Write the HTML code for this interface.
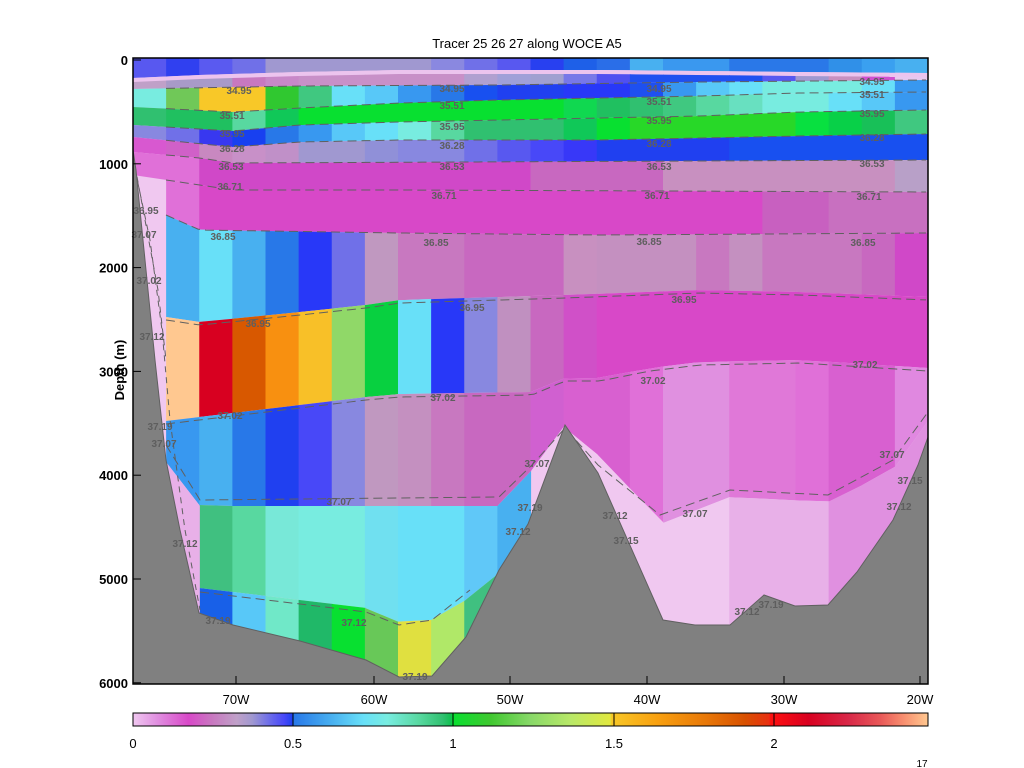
<!DOCTYPE html>
<html><head><meta charset="utf-8"><style>
html,body{margin:0;padding:0;background:#fff;width:1024px;height:768px;overflow:hidden}
svg{display:block}
text{font-family:"Liberation Sans",sans-serif}
</style></head><body>
<svg id="s" width="1024" height="768" xmlns="http://www.w3.org/2000/svg">
<defs>
<clipPath id="pc"><rect x="133" y="58" width="795" height="626"/></clipPath>
<linearGradient id="cb" x1="0" x2="1" y1="0" y2="0">
<stop offset="0" stop-color="#f0c8f0"/><stop offset="0.03" stop-color="#e090e0"/><stop offset="0.07" stop-color="#d848c8"/><stop offset="0.1" stop-color="#c878c0"/><stop offset="0.13" stop-color="#c0a0c8"/><stop offset="0.15" stop-color="#a098d0"/><stop offset="0.17" stop-color="#7070e8"/><stop offset="0.19" stop-color="#4848f8"/><stop offset="0.2" stop-color="#2040f0"/>
<stop offset="0.202" stop-color="#2878e8"/><stop offset="0.25" stop-color="#48b0f0"/><stop offset="0.29" stop-color="#68e0f8"/><stop offset="0.32" stop-color="#78ece0"/><stop offset="0.36" stop-color="#58d8a0"/><stop offset="0.39" stop-color="#30c070"/><stop offset="0.4" stop-color="#10c050"/>
<stop offset="0.402" stop-color="#08e030"/><stop offset="0.45" stop-color="#40c830"/><stop offset="0.5" stop-color="#88d868"/><stop offset="0.55" stop-color="#b8e868"/><stop offset="0.6" stop-color="#e0e840"/>
<stop offset="0.602" stop-color="#f8c828"/><stop offset="0.66" stop-color="#f8a010"/><stop offset="0.72" stop-color="#e87808"/><stop offset="0.77" stop-color="#d85000"/><stop offset="0.8" stop-color="#e83010"/>
<stop offset="0.802" stop-color="#ff1010"/><stop offset="0.85" stop-color="#d80020"/><stop offset="0.9" stop-color="#d82848"/><stop offset="0.94" stop-color="#e85858"/><stop offset="0.97" stop-color="#f89070"/><stop offset="1" stop-color="#ffc890"/>
</linearGradient>
</defs>
<g id="plot" clip-path="url(#pc)"><rect x="133" y="58" width="795" height="626" fill="#f0c8f0"/></g>
<g id="over"></g>
</svg>
<script>
var NS="http://www.w3.org/2000/svg";
var plot=document.getElementById('plot'),over=document.getElementById('over');
function el(p,t,a,txt){var e=document.createElementNS(NS,t);for(var k in a)e.setAttribute(k,a[k]);if(txt!=null)e.textContent=txt;p.appendChild(e);return e;}
function f(pts){return function(x){if(x<=pts[0][0])return pts[0][1];for(var i=1;i<pts.length;i++){if(x<=pts[i][0]){var a=pts[i-1],b=pts[i];return a[1]+(b[1]-a[1])*(x-a[0])/(b[0]-a[0]);}}return pts[pts.length-1][1];};}
function cst(v){return function(){return v;};}
var W=33.125,X0=133;
function layer(top,bot,cols){for(var i=0;i<24;i++){var c=cols[i];if(!c)continue;var x0=X0+i*W,x1=x0+W+0.6;
el(plot,'polygon',{points:x0+','+top(x0)+' '+x1+','+top(x1)+' '+x1+','+bot(x1)+' '+x0+','+bot(x0),fill:c});}}
function rep(c,n){var a=[];for(var i=0;i<n;i++)a.push(c);return a;}
var Bs=f([[133,78],[200,75],[300,72],[400,70],[600,70],[800,72],[928,73]]);
var Bs4=function(x){return Bs(x)+4;};
var B3=f([[133,89],[300,86],[500,85],[700,82],[928,80]]);
var B4=f([[133,107],[233,112],[300,108],[400,103],[500,100],[600,98],[700,96],[800,93],[928,92]]);
var B5=f([[133,125],[233,131],[300,125],[400,122],[500,120],[600,118],[700,116],[800,112],[928,110]]);
var B6=f([[133,137],[233,147],[300,142],[400,140],[600,140],[700,138],[800,136],[928,134]]);
var B7=f([[133,152],[200,158],[233,163],[928,160]]);
var B8=f([[133,175],[233,190],[400,190],[928,192]]);
var B9=f([[133,205],[166,215],[200,230],[400,233],[600,235],[928,233]]);
var B10=f([[166,317],[200,322],[300,312],[366,305],[400,300],[500,297],[565,295],[700,290],[800,292],[928,297]]);
var B11=f([[166,421],[233,413],[300,405],[366,397],[400,394],[532,392],[565,378],[600,378],[650,368],[700,362],[800,360],[928,368]]);
var B12=f([[166,462],[200,506],[499,506],[532,470],[565,425],[598,455],[663,523],[730,497],[828,502],[893,470],[928,420]]);
var B13=f([[200,588],[233,592],[300,600],[366,608],[399,622],[432,620],[466,600],[499,573],[532,545]]);
var B99=cst(700);
layer(cst(58),Bs,["#5858f0","#3040f0","#5a5af0","#7070e8","#a098d0","#a098d0","#a098d0","#a098d0","#a098d0","#8a88e0","#7070e8","#5858f0","#2840f0","#1e60e8","#2a6ee8","#48b0f0","#3a98ef","#3a98ef","#2a78e8","#2a78e8","#2a78e8","#3090e8","#3aa0f0","#48b0f0"]);
layer(Bs,Bs4,rep("#ecc4ee",24));
layer(Bs4,B3,["#c0a0c8","#a89ac8","#a89ac8","#c878c0","#c888c8","#c890c8","#c890c8","#c890c8","#c890c8","#c890c8","#b0a0d0","#a0a0d8","#a0a0d0","#7878e8","#5050f0","#2050f0","#2050f0","#2050f0","#2050f0","#5858f0","#a098d0","#c890c0","#d050d0","#e8c8f0"]);
layer(B3,B4,["#78ece0","#70c858","#f8c828","#f8c828","#30c830","#40c880","#68e0f8","#58c8f8","#3898f0","#2878e8","#1850f0","#2040f0","#2040f0","#2838f8","#2838f8","#1e50f0","#3898f0","#58c8f8","#68e0f8","#78ece0","#78ece0","#78ece0","#68e0f8","#3898f0"]);
layer(B4,B5,["#30c070","#20c060","#20c060","#58d8a0","#10c858","#08e030","#08e030","#08e030","#08e030","#08e030","#08e030","#08e030","#08e030","#10d850","#20c060","#30c070","#40c880","#58d8a0","#68e0c0","#78ece0","#78ece0","#68e0f8","#58c8f8","#3898f0"]);
layer(B5,B6,["#8888e0","#7070e8","#3838f0","#1840f0","#2878e8","#3898f0","#58c8f8","#68e0f8","#78ece0","#58d8a0","#30c070","#30c070","#30c070","#10c858","#08e030","#28d828","#28d828","#28d828","#28d828","#28d828","#08e040","#08d048","#18c058","#40c880"]);
layer(B6,B7,["#d858d0","#d060c8","#c888c0","#c890c8","#c090c8","#a098d0","#a098d0","#9090d8","#8888e0","#8888e0","#7070e8","#5858f0","#4848f8","#3838f8","#2040f0","#2040f0","#2040f0","#2040f0","#1850f0","#1850f0","#1850f0","#1850f0","#1850f0","#1850f0"]);
layer(B7,B8,["#e070d8","#e070d8"].concat(rep("#d048c8",10),rep("#c868c0",4),rep("#c890c0",7),["#b8a0c8"]));
layer(B8,B9,[null,"#e070d8"].concat(rep("#d848c8",17),["#c860c0","#c860c0","#c870c0","#c870c0","#c870c0"]));
layer(B9,B10,[null,"#48b0f0","#68e0f8","#48b0f0","#2878e8","#2838f8","#7070e8","#c098c0","#c878c0","#c878c0","#c868c0","#c868c0","#c868c0","#c890c0","#c490c0","#c490c0","#c490c0","#c878c0","#c490c0","#c878c0","#c878c0","#c878c0","#c868c0","#d048c8"]);
layer(B10,B11,[null,"#ffc890","#d80020","#d85800","#f89010","#f8c028","#90d868","#08d040","#68e0f8","#2838f8","#8888e0","#c090c0","#c868c0","#d050c8"].concat(rep("#d848c8",10)));
layer(B11,B12,[null,"#3898f0","#48b0f0","#2878e8","#2040f0","#4848f8","#8888e0","#c098c0","#c490c0","#c878c0","#c868c0","#c868c0","#d060d0","#d860d0","#d860d0","#e070d8","#e090e0","#e090e0","#e078d8","#e078d8","#e070d8","#d860d0","#d860d0","#e088e0"]);
layer(B12,B13,[null,null,"#40c080","#58d8a0","#78e8d8","#78ece0","#78ece0","#70e0f0","#68e0f8","#68e0f8","#60c8f8","#48b0f0"]);
layer(B13,B99,[null,null,"#1860e8","#58c8f8","#70e8c8","#20b868","#08e030","#68c858","#e0e040","#b0e868","#40c080","#40c080"]);
layer(B12,B99,[null,"#e8b0e8",null,null,null,null,null,null,null,null,null,null,null,"#f0c8f0","#f0c8f0","#f0c8f0","#f0c8f0","#f0c8f0","#e8b0e8","#e8b0e8","#e8b0e8","#e090e0","#e090e0","#e090e0"]);
// contours
var cont=[B3,B4,B5,B6,B7,B8,B9,B10,B11];
cont.forEach(function(B,k){var p=[];for(var x=166;x<=928;x+=8)p.push(x+','+(B(x)+(k<7?0:3)));el(plot,'polyline',{points:p.join(' '),fill:'none',stroke:'#606060','stroke-width':1,'stroke-dasharray':'9,5'});});
el(plot,'polyline',{points:'166,445 200,500 499,497 532,465 565,428 598,465 660,515 730,490 828,495 893,460 928,412',fill:'none',stroke:'#606060','stroke-width':1,'stroke-dasharray':'9,5'});
el(plot,'polyline',{points:'200,592 300,604 366,612 399,625 432,620 470,590',fill:'none',stroke:'#606060','stroke-width':1,'stroke-dasharray':'9,5'});
el(plot,'polyline',{points:'133,160 150,240 162,330 170,420 185,530 200,610',fill:'none',stroke:'#606060','stroke-width':1,'stroke-dasharray':'6,5'});
el(plot,'polyline',{points:'133,155 145,220 158,290 166,360',fill:'none',stroke:'#606060','stroke-width':1,'stroke-dasharray':'6,5'});
// bathymetry
el(plot,'polygon',{points:'133,150 136,170 145,260 155,360 166,460 180,530 199,613 233,625 300,641 366,660 399,677 432,676 466,637 499,570 528,524 565,425 598,473 663,620 695,625 730,625 764,595 795,606 828,605 857,572 893,520 918,465 928,437 928,690 133,690',fill:'#808080',stroke:'#606060','stroke-width':1});
// labels
var L=[["34.95",239,90],["34.95",452,88],["34.95",659,88],["34.95",872,81],
["35.51",232,115],["35.51",452,105],["35.51",659,101],["35.51",872,94],
["35.95",232,133],["35.95",452,126],["35.95",659,120],["35.95",872,113],
["36.28",232,148],["36.28",452,145],["36.28",659,143],["36.28",872,137],
["36.53",231,166],["36.53",452,166],["36.53",659,166],["36.53",872,163],
["36.71",230,186],["36.71",444,195],["36.71",657,195],["36.71",869,196],
["36.85",223,236],["36.85",436,242],["36.85",649,241],["36.85",863,242],
["36.95",258,323],["36.95",472,307],["36.95",684,299],["36.95",146,210],["37.02",149,280],
["37.02",230,415],["37.02",443,397],["37.02",653,380],["37.02",865,364],["37.07",144,234],
["37.07",339,501],["37.07",537,463],["37.07",695,513],["37.07",892,454],["37.07",164,443],
["37.12",152,336],["37.12",185,543],["37.12",518,531],["37.12",615,515],["37.12",747,611],["37.12",899,506],["37.12",354,622],
["37.19",160,426],["37.19",218,620],["37.19",415,676],["37.19",530,507],["37.15",626,540],["37.15",910,480],["37.19",771,604]];
L.forEach(function(l){el(over,'text',{x:l[1],y:l[2]+4,'text-anchor':'middle','font-size':10,'font-weight':'bold',fill:'#5e5e5e'},l[0]);});
// frame and axes
el(over,'rect',{x:133,y:58,width:795,height:626,fill:'none',stroke:'#000','stroke-width':1.5});
el(over,'text',{x:527,y:48,'text-anchor':'middle','font-size':13},"Tracer 25 26 27 along WOCE A5");
[0,1000,2000,3000,4000,5000,6000].forEach(function(d){var y=60+d*0.1038;el(over,'line',{x1:133,x2:141,y1:y,y2:y,stroke:'#000'});el(over,'text',{x:128,y:y+5,'text-anchor':'end','font-size':13,'font-weight':'bold'},String(d));});
var t=el(over,'text',{x:124,y:370,'text-anchor':'middle','font-size':13,'font-weight':'bold',transform:'rotate(-90 124 370)'},"Depth (m)");
[[236,"70W"],[374,"60W"],[510,"50W"],[647,"40W"],[784,"30W"],[920,"20W"]].forEach(function(a){el(over,'line',{x1:a[0],x2:a[0],y1:684,y2:676,stroke:'#000'});el(over,'text',{x:a[0],y:704,'text-anchor':'middle','font-size':13},a[1]);});
// colorbar
el(over,'rect',{x:133,y:713,width:795,height:13,fill:'url(#cb)',stroke:'#000','stroke-width':1});
[[133,"0"],[293,"0.5"],[453,"1"],[614,"1.5"],[774,"2"]].forEach(function(a){if(a[0]>133)el(over,'line',{x1:a[0],x2:a[0],y1:713,y2:726,stroke:'#000'});el(over,'text',{x:a[0],y:748,'text-anchor':'middle','font-size':13},a[1]);});
el(over,'text',{x:922,y:767,'text-anchor':'middle','font-size':10},"17");
</script>
</body></html>
